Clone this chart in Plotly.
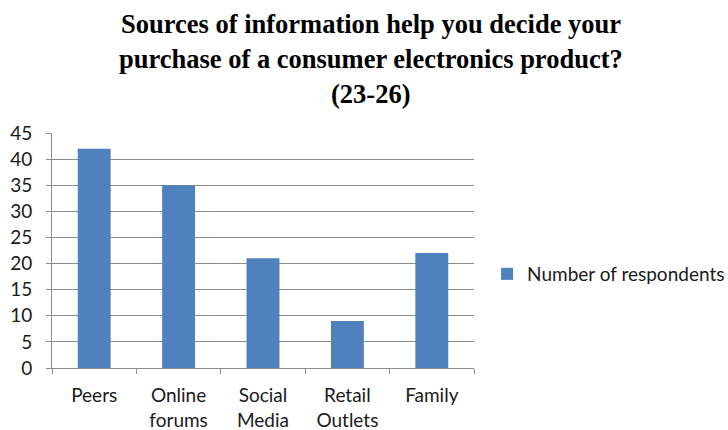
import plotly.graph_objects as go

# Survey results: where respondents get information before buying electronics
categories = ["Peers", "Online<br>forums", "Social<br>Media", "Retail<br>Outlets", "Family"]
respondents = [42, 35, 21, 9, 22]
y_ticks = [0, 5, 10, 15, 20, 25, 30, 35, 40, 45]

title_lines = [
    "Sources of information help you decide your",
    "purchase of a consumer electronics product?",
    "(23-26)",
]

fig = go.Figure(
    go.Bar(
        x=categories,
        y=respondents,
        name="Number of respondents",
        marker=dict(color="#4F81BD", line=dict(width=0)),
        showlegend=True,
    )
)

# Title drawn as three centred lines
for i, line in enumerate(title_lines):
    fig.add_annotation(
        text=f"<b>{line}</b>",
        xref="paper", yref="paper",
        x=0.755, y=1.0,
        yshift=109 - i * 35,
        xanchor="center", yanchor="middle",
        showarrow=False,
        font=dict(family="Liberation Serif", size=26.5, color="#000000"),
    )

fig.update_layout(
    width=728,
    height=430,
    margin=dict(l=52, r=254, t=133, b=62, autoexpand=False),
    paper_bgcolor="white",
    plot_bgcolor="white",
    bargap=0.61,
    font=dict(family="Lato", size=19, color="#1a1a1a"),
    legend=dict(
        x=1.031, y=0.40,
        xanchor="left", yanchor="middle",
        font=dict(family="Lato", size=19, color="#1a1a1a"),
        itemwidth=30,
    ),
    xaxis=dict(
        type="category",
        automargin=False,
        showline=True,
        linecolor="#8c8c8c",
        linewidth=1,
        ticks="outside",
        tickson="boundaries",
        ticklen=5,
        tickcolor="#8c8c8c",
        showgrid=False,
        tickfont=dict(size=19),
        ticklabelstandoff=10,
    ),
    yaxis=dict(
        range=[0, 45],
        tickvals=y_ticks,
        automargin=False,
        showline=True,
        linecolor="#8c8c8c",
        linewidth=1,
        ticks="outside",
        ticklen=5,
        tickcolor="#8c8c8c",
        showgrid=True,
        gridcolor="#8c8c8c",
        gridwidth=1,
        zeroline=False,
        tickfont=dict(size=19),
        ticklabelstandoff=10,
    ),
)

fig.write_html("out.html")
